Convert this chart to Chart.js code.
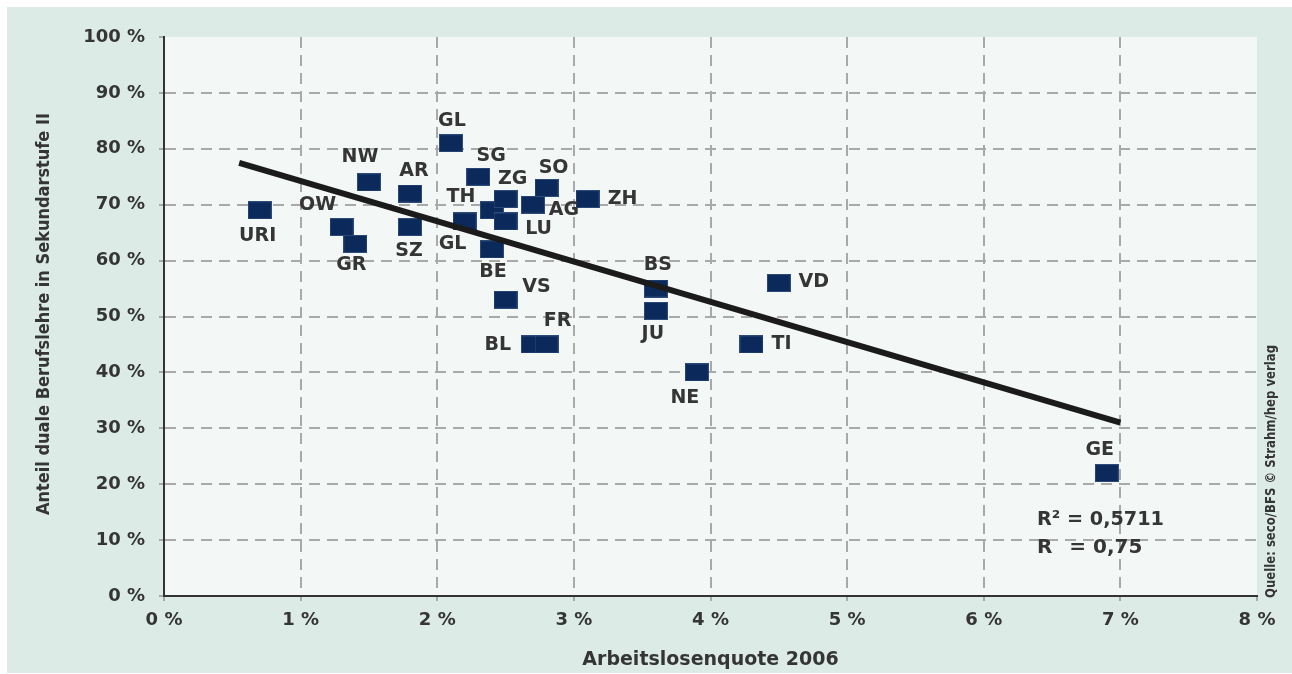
<!DOCTYPE html>
<html>
<head>
<meta charset="utf-8">
<script src="https://cdn.jsdelivr.net/npm/chart.js@4"></script>
<style>
  html, body { margin: 0; padding: 0; background: #ffffff; }
  #wrap { width: 1292px; height: 674px; }
</style>
</head>
<body>
<div id="wrap"><canvas id="scatterChart" width="1292" height="674"></canvas></div>
<script>
// Kantone, Arbeitslosenquote 2006 (%) und Anteil duale Berufslehre (%)
const cantons = ['URI', 'OW', 'GR', 'NW', 'AR', 'SZ', 'GL', 'SG', 'TH', 'GL', 'ZG', 'LU', 'BE',
                 'AG', 'SO', 'ZH', 'VS', 'BL', 'FR', 'BS', 'JU', 'VD', 'TI', 'NE', 'GE'];
const unemployment = [0.7, 1.3, 1.4, 1.5, 1.8, 1.8, 2.1, 2.3, 2.4, 2.2, 2.5, 2.5, 2.4,
                      2.7, 2.8, 3.1, 2.5, 2.7, 2.8, 3.6, 3.6, 4.5, 4.3, 3.9, 6.9];
const apprenticeShare = [69, 66, 63, 74, 72, 66, 81, 75, 69, 67, 71, 67, 62,
                         70, 73, 71, 53, 45, 45, 55, 51, 56, 45, 40, 22];

// Regressionsgerade (Endpunkte)
const trendX = [0.55, 7.0];
const trendY = [77.5, 31];

const statLines = ['R\u00B2 = 0,5711', 'R\u2002 = 0,75'];
const sourceNote = 'Quelle: seco/BFS \u00A9 Strahm/hep verlag';

// label placement next to each marker (px, relative to marker centre)
const labelOffset = [[-2, 26], [-24, -22], [-4, 21], [-9, -25], [4, -22], [-1, 24], [1, -22],
  [13, -21], [-31, -13], [-12, 23], [7, -20], [33, 8], [1, 23], [31, 5], [7, -20], [35, 0],
  [31, -13], [-35, 1], [11, -23], [2, -23], [-3, 23], [35, -1], [30, 0], [-12, 26], [-7, -23]];

const textColor = '#353535';
const fontFamily = '"DejaVu Sans", sans-serif';

// rectangular marker
const marker = document.createElement('canvas');
marker.width = 24;
marker.height = 18;
const mctx = marker.getContext('2d');
mctx.fillStyle = '#2e4a78';
mctx.fillRect(0, 0, 24, 18);
mctx.fillStyle = '#0b2a5b';
mctx.fillRect(1, 1, 22, 16);

function fitText(ctx, text, x, y, maxW, angle, align) {
    const w = ctx.measureText(text).width;
    const s = w > maxW ? maxW / w : 1;
    ctx.save();
    ctx.translate(x, y);
    ctx.rotate(angle);
    ctx.scale(s, 1);
    ctx.textAlign = align;
    ctx.fillText(text, 0, 0);
    ctx.restore();
}

const backgroundPlugin = {
    id: 'background',
    beforeDraw(chart) {
        const ctx = chart.ctx;
        const a = chart.chartArea;
        ctx.save();
        ctx.fillStyle = '#ffffff';
        ctx.fillRect(0, 0, chart.width, chart.height);
        ctx.fillStyle = '#dcebe6';
        ctx.fillRect(7, 7, chart.width - 7, chart.height - 8);
        ctx.fillStyle = '#f3f7f6';
        ctx.fillRect(a.left, a.top, a.right - a.left, a.bottom - a.top);
        ctx.restore();
    }
};

const labelPlugin = {
    id: 'pointLabels',
    afterDatasetsDraw(chart) {
        const ctx = chart.ctx;
        const meta = chart.getDatasetMeta(1);
        ctx.save();
        ctx.fillStyle = textColor;
        ctx.font = 'bold 19px ' + fontFamily;
        ctx.textAlign = 'center';
        ctx.textBaseline = 'middle';
        meta.data.forEach((pt, i) => {
            const off = labelOffset[i];
            ctx.fillText(cantons[i], pt.x + off[0], pt.y + off[1]);
        });
        ctx.restore();
    },
    afterDraw(chart) {
        const ctx = chart.ctx;
        const a = chart.chartArea;
        ctx.save();
        ctx.fillStyle = textColor;
        ctx.textBaseline = 'middle';

        // axis titles
        ctx.font = 'bold 19px ' + fontFamily;
        fitText(ctx, 'Arbeitslosenquote 2006', (a.left + a.right) / 2, 660, 270, 0, 'center');
        ctx.font = 'bold 18px ' + fontFamily;
        fitText(ctx, 'Anteil duale Berufslehre in Sekundarstufe II', 44, 314, 402, -Math.PI / 2, 'center');

        // statistics
        ctx.font = 'bold 20px ' + fontFamily;
        fitText(ctx, statLines[0], 1037, 520, 127, 0, 'left');
        fitText(ctx, statLines[1], 1037, 548, 127, 0, 'left');

        // source
        ctx.font = 'bold 14px ' + fontFamily;
        fitText(ctx, sourceNote, 1271, 598, 253, -Math.PI / 2, 'left');
        ctx.restore();
    }
};

const ctx = document.getElementById('scatterChart').getContext('2d');

const scatterChart = new Chart(ctx, {
    type: 'scatter',
    data: {
        datasets: [
            {
                label: 'Trend',
                type: 'line',
                data: trendX.map((x, i) => ({ x: x, y: trendY[i] })),
                borderColor: '#1b1b1b',
                borderWidth: 6,
                pointRadius: 0,
                fill: false,
                order: 0
            },
            {
                label: 'Kantone',
                data: unemployment.map((x, i) => ({ x: x, y: apprenticeShare[i] })),
                pointStyle: marker,
                pointRadius: 12,
                order: 1
            }
        ]
    },
    options: {
        responsive: false,
        animation: false,
        events: [],
        layout: {
            padding: { top: 37, right: 35, bottom: 0, left: 0 }
        },
        plugins: {
            legend: { display: false },
            tooltip: { enabled: false }
        },
        scales: {
            x: {
                type: 'linear',
                min: 0,
                max: 8,
                afterFit: function(scale) { scale.height = 78; },
                ticks: {
                    stepSize: 1,
                    color: textColor,
                    padding: 9,
                    font: { family: fontFamily, size: 18, weight: 'bold' },
                    callback: function(value) { return value + ' %'; }
                },
                grid: {
                    color: function(c) {
                        return (c.tick && (c.tick.value === 0 || c.tick.value === 8)) ? 'rgba(0,0,0,0)' : '#a9a9a9';
                    },
                    lineWidth: 2,
                    tickLength: 5,
                    tickColor: '#a9a9a9'
                },
                border: { color: '#333333', width: 2, dash: [11, 7] }
            },
            y: {
                type: 'linear',
                min: 0,
                max: 100,
                afterFit: function(scale) { scale.width = 164; },
                ticks: {
                    stepSize: 10,
                    color: textColor,
                    padding: 14,
                    font: { family: fontFamily, size: 18, weight: 'bold' },
                    callback: function(value) { return value + ' %'; }
                },
                grid: {
                    color: function(c) {
                        return (c.tick && (c.tick.value === 0 || c.tick.value === 100)) ? 'rgba(0,0,0,0)' : '#a9a9a9';
                    },
                    lineWidth: 2,
                    tickLength: 5,
                    tickColor: '#a9a9a9'
                },
                border: { color: '#333333', width: 2, dash: [11, 7] }
            }
        }
    },
    plugins: [backgroundPlugin, labelPlugin]
});
</script>
</body>
</html>
